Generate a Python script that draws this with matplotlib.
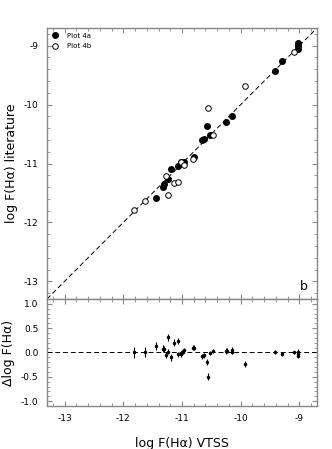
import matplotlib
matplotlib.use('Agg')
import matplotlib.pyplot as plt
from matplotlib.ticker import MultipleLocator

# Plot 4a (filled)
x_4a = [-11.45, -11.32, -11.30, -11.24, -11.18, -11.07, -11.01, -10.97, -10.79, -10.66,
        -10.62, -10.57, -10.53, -10.25, -10.15, -9.41, -9.29, -9.02, -9.02, -9.02]
y_4a = [-11.58, -11.40, -11.34, -11.26, -11.10, -11.04, -10.97, -10.98, -10.89, -10.60,
        -10.58, -10.37, -10.52, -10.29, -10.19, -9.43, -9.26, -8.95, -9.01, -9.05]

# Plot 4b (open)
x_4b = [-11.81, -11.63, -11.27, -11.24, -11.13, -11.07, -11.01, -10.96, -10.82, -10.56,
        -10.48, -9.92, -9.10]
y_4b = [-11.79, -11.64, -11.22, -11.54, -11.33, -11.32, -10.98, -11.03, -10.93, -10.05,
        -10.52, -9.69, -9.10]

# residual panel
x_res = [-11.81, -11.63, -11.45, -11.32, -11.30, -11.27, -11.24, -11.24, -11.18, -11.13,
         -11.07, -11.06, -11.02, -11.00, -10.98, -10.96, -10.81, -10.79, -10.66, -10.63,
         -10.57, -10.56, -10.53, -10.48, -10.25, -10.24, -10.15, -10.14, -9.92, -9.41,
         -9.29, -9.10, -9.02, -9.02, -9.02]
d_res = [0.00, 0.01, 0.14, 0.08, 0.07, -0.05, 0.31, 0.02, -0.10, 0.20,
         0.24, -0.04, -0.03, 0.00, 0.02, 0.05, 0.10, 0.10, -0.08, -0.06,
         -0.19, -0.50, -0.01, 0.03, 0.03, 0.04, 0.05, 0.02, -0.24, 0.01,
         -0.03, 0.00, 0.02, -0.03, -0.07]
e_res = [0.12, 0.10, 0.08, 0.07, 0.07, 0.07, 0.07, 0.06, 0.07, 0.07,
         0.06, 0.06, 0.06, 0.05, 0.05, 0.05, 0.05, 0.05, 0.05, 0.05,
         0.06, 0.07, 0.05, 0.05, 0.07, 0.06, 0.07, 0.06, 0.06, 0.04,
         0.05, 0.04, 0.05, 0.05, 0.05]

plt.rcParams['axes.unicode_minus'] = False
plt.rcParams['font.family'] = ['DejaVu Sans']
frame = '#888888'

fig = plt.figure(figsize=(3.32, 4.49), dpi=100)
ax0 = fig.add_axes([0.1416, 0.3341, 0.8132, 0.6035])
ax1 = fig.add_axes([0.1416, 0.0958, 0.8132, 0.2383])

lim = (-13.3, -8.7)
ax0.plot(lim, lim, ls=(0, (5, 3)), color='black', lw=0.7)
ax0.plot(x_4a, y_4a, 'o', color='black', ms=4.0, label='Plot 4a')
ax0.plot(x_4b, y_4b, 'o', mfc='white', mec='black', mew=0.7, ms=4.0, label='Plot 4b')
ax0.set_xlim(lim)
ax0.set_ylim(lim)
ax0.set_ylabel('log F(H\u03b1) literature', fontsize=9)
ax0.xaxis.set_major_locator(MultipleLocator(1))
ax0.xaxis.set_minor_locator(MultipleLocator(0.2))
ax0.yaxis.set_major_locator(MultipleLocator(1))
ax0.yaxis.set_minor_locator(MultipleLocator(0.2))
ax0.tick_params(labelbottom=False)
ax0.text(-8.86, -13.08, 'b', fontsize=9, ha='right', va='center')
leg = ax0.legend(loc='upper left', frameon=False, fontsize=5, handletextpad=1.2,
                 borderaxespad=0.3, labelspacing=0.6, handlelength=1)

ax1.axhline(0, ls=(0, (5, 3)), color='black', lw=0.7)
ax1.errorbar(x_res, d_res, yerr=e_res, fmt='o', ms=1.5, color='black', elinewidth=0.8,
             capsize=0)
ax1.set_xlim(lim)
ax1.set_ylim(-1.1, 1.1)
ax1.set_ylabel('\u0394log F(H\u03b1)', fontsize=9)
ax1.set_xlabel('log F(H\u03b1) VTSS', fontsize=9, labelpad=10)
ax1.xaxis.set_major_locator(MultipleLocator(1))
ax1.xaxis.set_minor_locator(MultipleLocator(0.2))
ax1.yaxis.set_major_locator(MultipleLocator(0.5))
ax1.yaxis.set_minor_locator(MultipleLocator(0.1))
ax1.set_yticklabels([], minor=True)
ax1.yaxis.set_major_formatter(matplotlib.ticker.FormatStrFormatter('%.1f'))

for ax in (ax0, ax1):
    for s in ax.spines.values():
        s.set_color(frame)
        s.set_linewidth(1.0)
    ax.tick_params(which='both', direction='in', top=True, right=True, color=frame,
                   labelsize=6.5, pad=6)
    ax.tick_params(which='major', length=3.5)
    ax.tick_params(which='minor', length=2)

fig.savefig('out.png', dpi=100)
